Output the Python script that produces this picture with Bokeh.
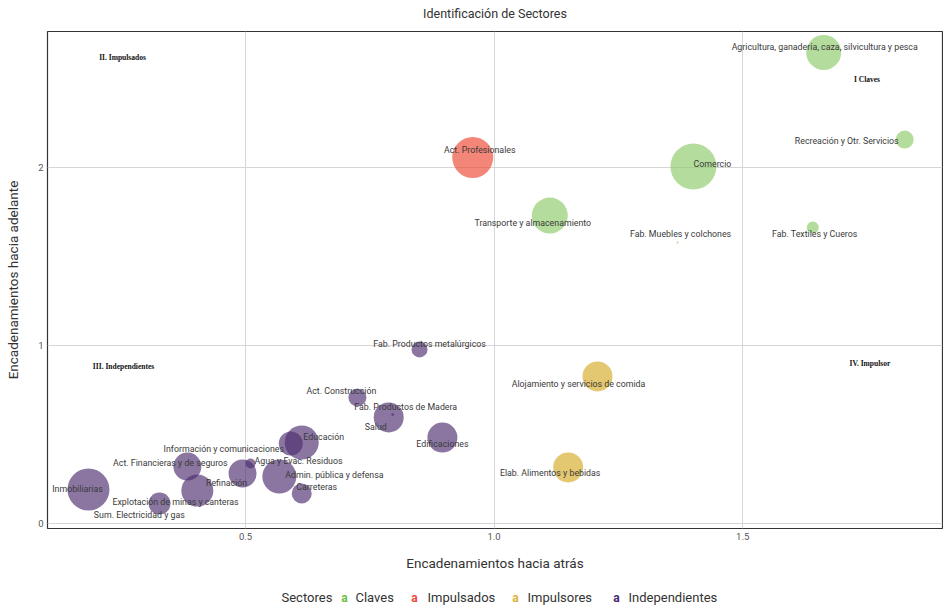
from bokeh.plotting import figure
from bokeh.models import ColumnDataSource, FixedTicker, Range1d, NumeralTickFormatter
from bokeh.layouts import column
from bokeh.core.properties import value
from bokeh.embed import file_html
from bokeh.resources import INLINE
import math

# ---------------- data ----------------
sectores = [
    "Agricultura, ganadería, caza, silvicultura y pesca",
    "Recreación y Otr. Servicios",
    "Comercio",
    "Transporte y almacenamiento",
    "Fab. Muebles y colchones",
    "Fab. Textiles y Cueros",
    "Act. Profesionales",
    "Alojamiento y servicios de comida",
    "Elab. Alimentos y bebidas",
    "Inmobiliarias",
    "Explotación de minas y canteras",
    "Sum. Electricidad y gas",
    "Act. Financieras y de seguros",
    "Refinación",
    "Información y comunicaciones",
    "Agua y Evac. Residuos",
    "Admin. pública y defensa",
    "Carreteras",
    "Educación",
    "Act. Construcción",
    "Salud",
    "Fab. Productos de Madera",
    "Edificaciones",
    "Fab. Productos metalúrgicos",
]
grupo = (["Claves"] * 6 + ["Impulsados"] + ["Impulsores"] * 2 + ["Independientes"] * 15)
atras = [1.663, 1.826, 1.401, 1.112, 1.369, 1.641,
         0.957,
         1.208, 1.149,
         0.184, 0.327, 0.403, 0.383, 0.494, 0.591, 0.510, 0.568, 0.613,
         0.613, 0.725, 0.788, 0.796, 0.896, 0.850]
adelante = [2.646, 2.157, 2.006, 1.730, 1.579, 1.663,
            2.056,
            0.826, 0.315,
            0.191, 0.112, 0.185, 0.320, 0.281, 0.449, 0.337, 0.264, 0.169,
            0.455, 0.708, 0.596, 0.612, 0.483, 0.978]
peso = [306, 81, 529, 324, 1, 36,
        420,
        225, 225,
        441, 121, 256, 196, 196, 144, 25, 289, 100,
        289, 81, 225, 2, 225, 64]

titulo = "Identificación de Sectores"
categorias = ["Claves", "Impulsados", "Impulsores", "Independientes"]
colores = ["#8cc967", "#ec4530", "#d6ab25", "#4b2d6e"]
colores_leyenda = ["#6dbf45", "#f0483a", "#d9b23a", "#46286e"]

# label offsets in screen pixels (layout, not data)
label_dx = [1, -58, 19, -17, 3, 2, 7, -19, -18,
            -11, 16, -58, -17, -16, -67, 48, 55, 15, 22, -16, -13, 13, 0, 10]
label_dy = [-6, 1, -2, 7, -8, 7, -8, 8, 6,
            -1, -2, 24, -4, 10, 5, -3, -2, -6, -6, -6, 10, -8, 6, -5]

color_map = dict(zip(categorias, colores))
src = ColumnDataSource(dict(
    x=atras, y=adelante, name=sectores, grupo=grupo,
    size=[2 * math.sqrt(v) for v in peso],
    color=[color_map[g] for g in grupo],
    dx=label_dx, dy=label_dy,
))

FONT = "Roboto"
W = 943

# title row (x in page pixels)
tfig = figure(width=W, height=30, x_range=Range1d(47, 942), y_range=Range1d(0, 30),
              output_backend="svg", toolbar_location=None, min_border=0,
              min_border_left=47, min_border_right=1,
              x_axis_type=None, y_axis_type=None)
tfig.grid.visible = False
tfig.outline_line_color = None
tfig.text(x=[494.5], y=[17], text=[titulo], text_font=value(FONT),
          text_font_size=value("12.5px"), text_color="#333333",
          text_align="center", text_baseline="middle")

p = figure(width=W, height=555, x_range=Range1d(0.1016, 1.902), y_range=Range1d(-0.028, 2.764),
           output_backend="svg", toolbar_location=None,
           min_border_left=47, min_border_right=1, min_border_top=1, min_border_bottom=57)

p.xaxis.ticker = FixedTicker(ticks=[0.5, 1.0, 1.5])
p.yaxis.ticker = FixedTicker(ticks=[0, 1, 2])
p.xaxis.formatter = NumeralTickFormatter(format="0.0")
p.yaxis.formatter = NumeralTickFormatter(format="0")
p.xaxis.axis_label = "Encadenamientos hacia atrás"
p.yaxis.axis_label = "Encadenamientos hacia adelante"
for ax in (p.xaxis, p.yaxis):
    ax.axis_line_color = None
    ax.major_tick_line_color = None
    ax.minor_tick_line_color = None
    ax.major_tick_out = 0
    ax.major_label_standoff = 4
    ax.axis_label_text_font = FONT
    ax.axis_label_text_font_style = "normal"
    ax.axis_label_text_font_size = "13.5px"
    ax.axis_label_text_color = "#333333"
    ax.major_label_text_font = FONT
    ax.major_label_text_font_size = "9.5px"
    ax.major_label_text_color = "#555555"
p.xaxis.axis_label_standoff = 12
p.yaxis.axis_label_standoff = 14
p.grid.grid_line_color = "#d6d6d6"
p.grid.grid_line_width = 1
p.outline_line_color = "#333333"
p.outline_line_width = 1.2

p.scatter(x="x", y="y", size="size", source=src, fill_color="color", fill_alpha=0.65,
          line_color=None)
p.text(x="x", y="y", text="name", source=src, x_offset="dx", y_offset="dy",
       text_font=value(FONT), text_font_size=value("8.8px"), text_color="#3a3a3a",
       text_align="center", text_baseline="middle")

# quadrant annotations
cuadrantes = ["II. Impulsados", "I  Claves", "III. Independientes", "IV. Impulsor"]
cuad_x = [0.2525, 1.752, 0.2545, 1.756]
cuad_y = [2.618, 2.494, 0.882, 0.899]
p.text(x=cuad_x, y=cuad_y, text=cuadrantes, text_font=value("Liberation Serif"),
       text_font_style="bold", text_font_size=value("7.5px"), text_color="#111111",
       text_align="center", text_baseline="middle")

# legend row (x in page pixels)
leg = figure(width=W, height=22, x_range=Range1d(47, 942), y_range=Range1d(0, 22),
             output_backend="svg", toolbar_location=None, min_border=0,
             min_border_left=47, min_border_right=1,
             x_axis_type=None, y_axis_type=None)
leg.grid.visible = False
leg.outline_line_color = None
leg.text(x=[281], y=[10], text=["Sectores"], text_font=value(FONT),
         text_font_size=value("13px"), text_color="#333333",
         text_align="left", text_baseline="middle")
sym_x = [344, 414, 515, 616]
lab_x = [355, 427, 527, 628]
leg.text(x=sym_x, y=[10] * 4, text=["a"] * 4, text_font=value(FONT), text_font_style="bold",
         text_font_size=value("12px"), text_color=colores_leyenda,
         text_align="center", text_baseline="middle")
leg.text(x=lab_x, y=[10] * 4, text=categorias, text_font=value(FONT),
         text_font_size=value("13px"), text_color="#333333",
         text_align="left", text_baseline="middle")

layout = column(tfig, p, leg, spacing=0)
open("out.html", "w").write(file_html(layout, INLINE))
